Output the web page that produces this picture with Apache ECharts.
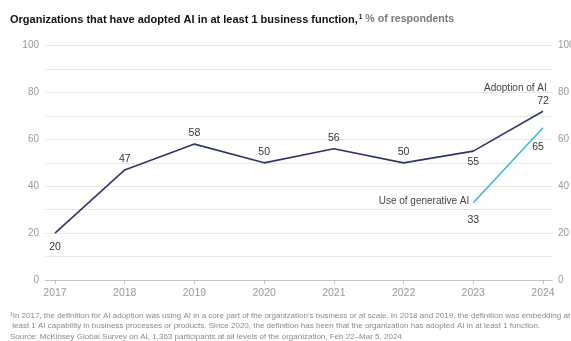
<!DOCTYPE html>
<html><head><meta charset="utf-8">
<script src="https://cdn.jsdelivr.net/npm/echarts@6/dist/echarts.min.js"></script>
<style>
html,body{margin:0;padding:0;background:#fff;overflow:hidden;}
#c{width:571px;height:341px;}
</style></head>
<body><div id="c"></div>
<script>
const years = [2017, 2018, 2019, 2020, 2021, 2022, 2023, 2024];
const adoption = [20, 47, 58, 50, 56, 50, 55, 72];
const genAIYears = [2023, 2024];
const genAI = [33, 65];
const yTicks = [0, 20, 40, 60, 80, 100];
const adoptionLabelPos = ['bottom', 'top', 'top', 'top', 'top', 'top', 'bottom', 'top'];
const genAILabelPos = ['bottom', 'bottom'];

const chart = echarts.init(document.getElementById('c'), null, {renderer: 'canvas'});
const font = 'Liberation Sans, Arial, sans-serif';
const navy = '#2c3767';
const cyan = '#3cb9d2';

chart.setOption({
  animation: false,
  textStyle: {fontFamily: font},
  title: [{
    left: 10, top: 13.5, padding: 0,
    text: '{b|Organizations that have adopted AI in at least 1 business function,}{s|1}{g| % of respondents}',
    textStyle: {
      rich: {
        b: {fontFamily: font, fontSize: 11, fontWeight: 'bold', color: '#111'},
        s: {fontFamily: font, fontSize: 6.5, color: '#111', verticalAlign: 'top', padding: [0, 0, 5, 1]},
        g: {fontFamily: font, fontSize: 10.6, color: '#7a7a7a'}
      }
    }
  }],
  graphic: [{
    type: 'text', left: 10, top: 310.5,
    style: {
      text: '¹In 2017, the definition for AI adoption was using AI in a core part of the organization\'s business or at scale. In 2018 and 2019, the definition was embedding at\n least 1 AI capability in business processes or products. Since 2020, the definition has been that the organization has adopted AI in at least 1 function.\nSource: McKinsey Global Survey on AI, 1,363 participants at all levels of the organization, Feb 22–Mar 5, 2024',
      font: '8px ' + font, fill: '#8a8a8a', lineHeight: 10.5
    }
  }],
  grid: {left: 45, right: 19, top: 45.7, bottom: 61, containLabel: false, outerBoundsMode: 'none'},
  xAxis: {
    type: 'value', min: 2017 - 10 / 69.7, max: 2024 + 9 / 69.7,
    axisLine: {show: true, lineStyle: {color: '#c4c4c4', width: 1}},
    axisTick: {show: true, customValues: years, length: 4, lineStyle: {color: '#c4c4c4'}},
    axisLabel: {customValues: years, color: '#999', fontSize: 10.5, margin: 8, formatter: v => String(Math.round(v))},
    splitLine: {show: false}
  },
  yAxis: [{
    type: 'value', min: 0, max: 100, interval: 10,
    axisLine: {show: false}, axisTick: {show: false},
    axisLabel: {color: '#999', fontSize: 10, margin: 6, formatter: v => (yTicks.includes(v) ? String(v) : '')},
    splitLine: {lineStyle: {color: '#e8e8e8', width: 1}}
  }, {
    type: 'value', min: 0, max: 100, interval: 10, position: 'right',
    axisLine: {show: false}, axisTick: {show: false},
    axisLabel: {color: '#999', fontSize: 10, margin: 6, formatter: v => (yTicks.includes(v) ? String(v) : '')},
    splitLine: {show: false}
  }],
  series: [{
    type: 'line', name: 'Adoption of AI',
    data: years.map((y, i) => ({
      value: [y, adoption[i]],
      label: {show: true, position: adoptionLabelPos[i], distance: i === 0 ? 8 : 5}
    })),
    symbol: 'circle', symbolSize: 0, showSymbol: true,
    lineStyle: {color: navy, width: 1.6}, itemStyle: {color: navy},
    label: {show: true, color: '#333', fontSize: 10.5, fontFamily: font},
    endLabel: {show: true, formatter: 'Adoption of AI', color: '#444', fontSize: 10, offset: [-67, -23]}
  }, {
    type: 'line', name: 'Use of generative AI',
    data: genAIYears.map((y, i) => ({
      value: [y, genAI[i]],
      label: {show: true, position: genAILabelPos[i], distance: i === 0 ? 12 : 14, offset: i === 1 ? [-5, 0] : [0, 0]}
    })),
    symbol: 'circle', symbolSize: 0, showSymbol: true,
    lineStyle: {color: cyan, width: 1.6}, itemStyle: {color: cyan},
    label: {show: true, color: '#333', fontSize: 10.5, fontFamily: font},
    markPoint: {
      symbol: 'circle', symbolSize: 0,
      data: [{coord: [genAIYears[0], genAI[0]], value: 'Use of generative AI'}],
      label: {show: true, position: 'left', distance: 4, formatter: 'Use of generative AI', color: '#444', fontSize: 10, offset: [0, -1]}
    }
  }]
});
</script></body></html>
